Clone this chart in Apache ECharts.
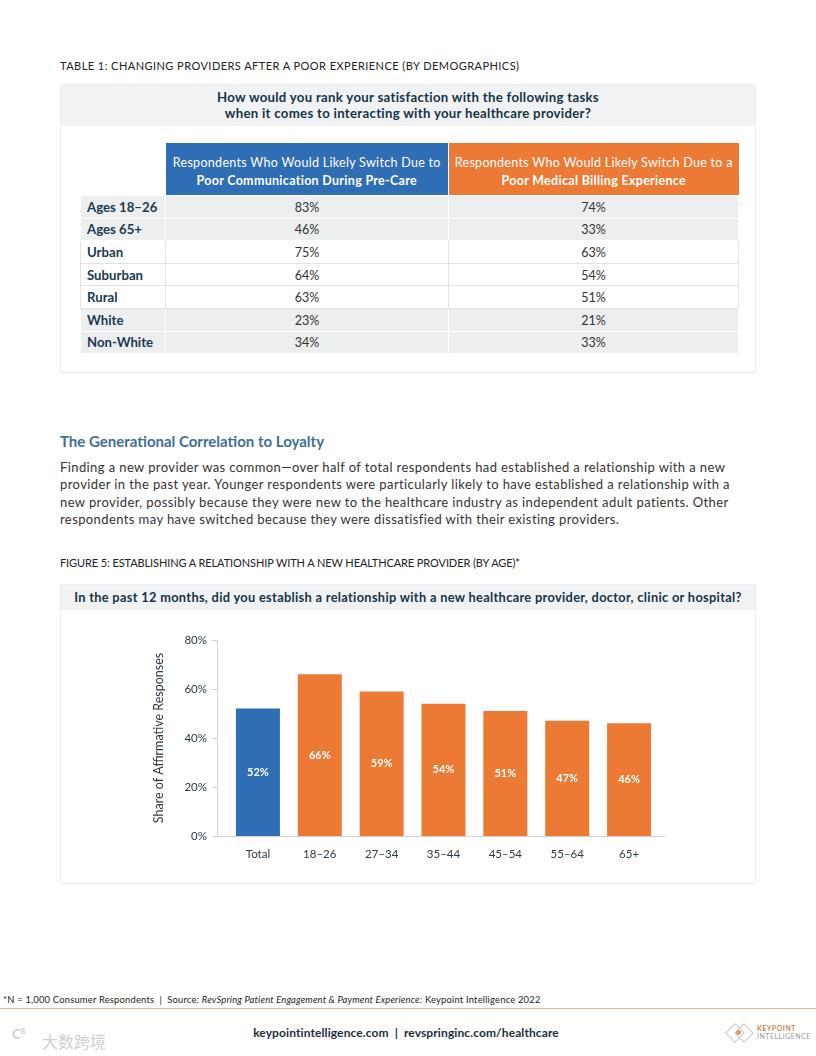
<!DOCTYPE html>
<html>
<head>
<meta charset="utf-8">
<script src="https://cdn.jsdelivr.net/npm/echarts@6/dist/echarts.min.js"></script>
<style>
  html,body{margin:0;padding:0;background:#fff;}
  body{width:816px;height:1056px;position:relative;overflow:hidden;font-family:Lato,"Open Sans",sans-serif;color:#2a2f33;}
  .abs{position:absolute;}
  .cap{font-size:11px;color:#222;text-transform:uppercase;white-space:nowrap;}
  .card{border:1px solid #eceef0;background:#fff;box-sizing:border-box;}
  .band{background:#f1f2f4;color:#163447;font-weight:bold;text-align:center;white-space:nowrap;}
  table{border-collapse:collapse;table-layout:fixed;}
  td{padding:0;font-size:12.5px;line-height:15px;}
  .hd{color:#fff;text-align:center;font-size:12.5px;letter-spacing:0.3px;line-height:18px;height:52px;padding-top:5px;box-sizing:border-box;border-right:1px solid #fff;}
  .rl{font-weight:bold;color:#1c3a4f;padding-left:6px;font-size:13.2px;}
  .vl{text-align:center;color:#333;}
  tr.row td{height:20.6px;border:1px solid #e1e4e7;padding-top:1px;}
  tr.g td{background:#eceef0;border-color:#fff;}
  tr.g td.vl{border-left:1px solid #dcdfe2;}
</style>
</head>
<body>
<div class="abs cap" style="left:60px;top:59px;letter-spacing:0.45px;">Table 1: Changing Providers After a Poor Experience (by Demographics)</div>

<div class="abs card" style="left:60px;top:84px;width:696px;height:289px;">
  <div class="band" style="height:41px;font-size:13.2px;letter-spacing:0.3px;line-height:16px;padding-top:4px;box-sizing:border-box;">How would you rank your satisfaction with the following tasks<br>when it comes to interacting with your healthcare provider?</div>
  <table id="tbl" class="abs" style="left:19px;top:58px;width:658px;">
    <colgroup><col style="width:85px"><col style="width:283px"><col style="width:290px"></colgroup>
  </table>
</div>

<div class="abs" style="left:60px;top:432px;font-size:15px;font-weight:bold;color:#3f6f98;">The Generational Correlation to Loyalty</div>
<div class="abs" style="left:60px;top:459px;width:720px;font-size:13px;letter-spacing:0.4px;line-height:17.4px;color:#333;">Finding a new provider was common—over half of total respondents had established a relationship with a new<br>provider in the past year. Younger respondents were particularly likely to have established a relationship with a<br>new provider, possibly because they were new to the healthcare industry as independent adult patients. Other<br>respondents may have switched because they were dissatisfied with their existing providers.</div>

<div class="abs cap" style="left:60px;top:556px;letter-spacing:-0.1px;">Figure 5: Establishing a Relationship with a New Healthcare Provider (by Age)*</div>

<div class="abs card" style="left:60px;top:584px;width:696px;height:300px;">
  <div class="band" style="height:25px;font-size:12.8px;letter-spacing:0.32px;line-height:25px;">In the past 12 months, did you establish a relationship with a new healthcare provider, doctor, clinic or hospital?</div>
</div>
<div id="chart" class="abs" style="left:60px;top:609px;width:695px;height:274px;"></div>

<div class="abs" style="left:3px;top:994px;font-size:9.4px;letter-spacing:0.2px;color:#222;white-space:nowrap;">*N = 1,000 Consumer Respondents &nbsp;|&nbsp; Source: <i>RevSpring Patient Engagement &amp; Payment Experience:</i> Keypoint Intelligence 2022</div>
<div class="abs" style="left:0;top:1008px;width:816px;height:1px;background:#efb58a;"></div>
<div class="abs" style="left:0;top:1025px;width:812px;text-align:center;font-size:12px;letter-spacing:0.1px;font-weight:bold;color:#1b2f3b;">keypointintelligence.com &nbsp;|&nbsp; revspringinc.com/healthcare</div>

<div class="abs" style="left:12px;top:1026px;font-size:13px;color:#cfcfcf;font-weight:bold;">C<sup style="font-size:8px;">ß</sup></div>
<div class="abs" style="left:42px;top:1029px;font-family:'Noto Sans CJK SC';font-size:16px;color:#d0d0d0;">大数跨境</div>

<div class="abs" style="left:728px;top:1026px;width:12px;height:12px;border:1px solid #c9c9c9;transform:rotate(45deg);"></div>
<div class="abs" style="left:737px;top:1026px;width:12px;height:12px;border:1px solid #c9c9c9;transform:rotate(45deg);"></div>
<div class="abs" style="left:736px;top:1030px;width:5px;height:5px;border-radius:3px;background:#e59a6a;"></div>
<div class="abs" style="left:757px;top:1024px;font-size:7px;line-height:8px;letter-spacing:0.5px;"><b style="color:#c9844f;">KEYPOINT</b><br><span style="color:#9a9a9a;">INTELLIGENCE</span></div>

<script>
// ---- Table 1 data ----
var tableHeaders = [
  ["Respondents Who Would Likely Switch Due to", "Poor Communication During Pre-Care"],
  ["Respondents Who Would Likely Switch Due to a", "Poor Medical Billing Experience"]
];
var tableRows = ["Ages 18–26", "Ages 65+", "Urban", "Suburban", "Rural", "White", "Non-White"];
var commValues = [83, 46, 75, 64, 63, 23, 34];
var billingValues = [74, 33, 63, 54, 51, 21, 33];
var rowShaded = [true, true, false, false, false, true, true];

// ---- Figure 5 data ----
var ageCategories = ["Total", "18–26", "27–34", "35–44", "45–54", "55–64", "65+"];
var affirmativeShare = [52, 66, 59, 54, 51, 47, 46];
var yTicks = [0, 20, 40, 60, 80];

// build table
(function(){
  var t = document.getElementById('tbl');
  var h = '<tr><td style="height:52px;"></td>' +
    '<td class="hd" style="background:#2f6db5;">' + tableHeaders[0][0] + '<br><b>' + tableHeaders[0][1] + '</b></td>' +
    '<td class="hd" style="background:#ec7a35;border-right:none;">' + tableHeaders[1][0] + '<br><b>' + tableHeaders[1][1] + '</b></td></tr>';
  for (var i = 0; i < tableRows.length; i++) {
    h += '<tr class="row' + (rowShaded[i] ? ' g' : '') + '"><td class="rl">' + tableRows[i] + '</td>' +
      '<td class="vl">' + commValues[i] + '%</td><td class="vl">' + billingValues[i] + '%</td></tr>';
  }
  t.insertAdjacentHTML('beforeend', h);
})();

var chart = echarts.init(document.getElementById('chart'), null, {renderer: 'canvas'});
var txt = '#2b3a45';
var barColors = ageCategories.map(function(c, i){ return i === 0 ? '#2f6db5' : '#ec7a35'; });
chart.setOption({
  animation: false,
  textStyle: {fontFamily: 'Lato, "Open Sans", sans-serif'},
  grid: [
    {left: 167, top: 31, width: 433, height: 196},
    {left: 157, top: 31, width: 448, height: 196}
  ],
  xAxis: [
    {type: 'category', gridIndex: 0, data: ageCategories,
     axisLine: {show: false}, axisTick: {show: false},
     axisLabel: {color: txt, fontSize: 11.5, margin: 12}},
    {type: 'value', gridIndex: 1, min: 0, max: 1,
     axisLine: {show: true, lineStyle: {color: '#cfd2d5', width: 1}},
     axisTick: {show: false}, axisLabel: {show: false}, splitLine: {show: false}}
  ],
  yAxis: [
    {type: 'value', gridIndex: 0, min: yTicks[0], max: yTicks[yTicks.length - 1], interval: 20, show: false},
    {type: 'value', gridIndex: 1, min: yTicks[0], max: yTicks[yTicks.length - 1], interval: 20,
     name: 'Share of Affirmative Responses', nameLocation: 'middle', nameGap: 52,
     nameTextStyle: {color: txt, fontSize: 12.5},
     axisLine: {show: true, lineStyle: {color: '#cfd2d5', width: 1}},
     axisTick: {show: true, length: 5, lineStyle: {color: '#cfd2d5'}},
     axisLabel: {color: txt, fontSize: 11.5, margin: 10, formatter: '{value}%'},
     splitLine: {show: false}}
  ],
  series: [{
    type: 'bar', xAxisIndex: 0, yAxisIndex: 0,
    barWidth: 44,
    data: affirmativeShare.map(function(v, i){ return {value: v, itemStyle: {color: barColors[i]}}; }),
    label: {show: true, position: 'inside', color: '#fff', fontWeight: 'bold', fontSize: 11,
            formatter: '{c}%'}
  }]
});
</script>
</body>
</html>
